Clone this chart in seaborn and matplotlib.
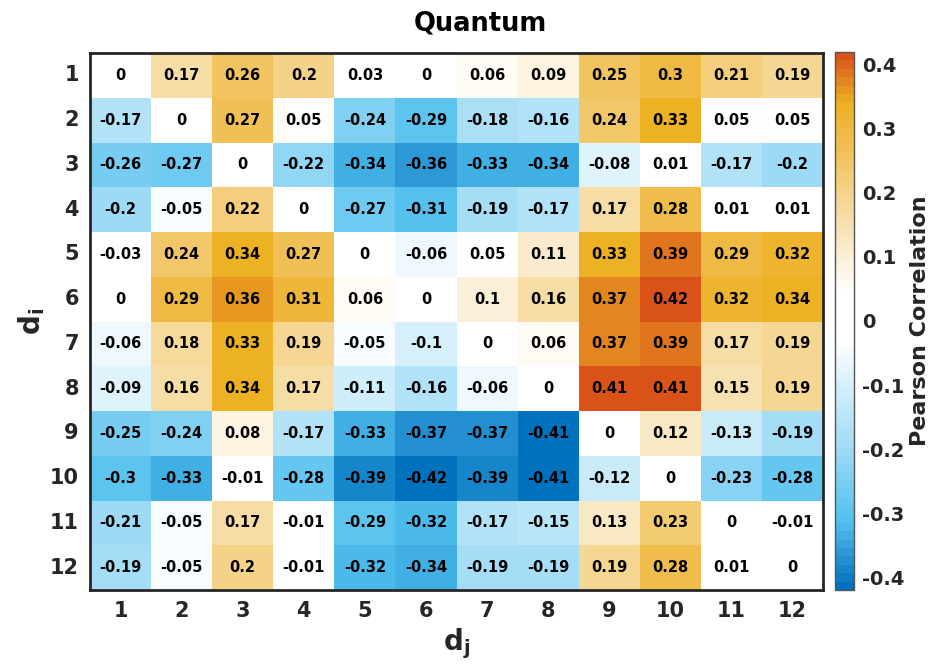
import numpy as np
import pandas as pd
import matplotlib
matplotlib.use("Agg")
import matplotlib.pyplot as plt
import seaborn as sns
from matplotlib.colors import LinearSegmentedColormap, ListedColormap

labels = [str(i) for i in range(1, 13)]

row_1 = [0, 0.17, 0.26, 0.2, 0.03, 0, 0.06, 0.09, 0.25, 0.3, 0.21, 0.19]
row_2 = [-0.17, 0, 0.27, 0.05, -0.24, -0.29, -0.18, -0.16, 0.24, 0.33, 0.05, 0.05]
row_3 = [-0.26, -0.27, 0, -0.22, -0.34, -0.36, -0.33, -0.34, -0.08, 0.01, -0.17, -0.2]
row_4 = [-0.2, -0.05, 0.22, 0, -0.27, -0.31, -0.19, -0.17, 0.17, 0.28, 0.01, 0.01]
row_5 = [-0.03, 0.24, 0.34, 0.27, 0, -0.06, 0.05, 0.11, 0.33, 0.39, 0.29, 0.32]
row_6 = [0, 0.29, 0.36, 0.31, 0.06, 0, 0.1, 0.16, 0.37, 0.42, 0.32, 0.34]
row_7 = [-0.06, 0.18, 0.33, 0.19, -0.05, -0.1, 0, 0.06, 0.37, 0.39, 0.17, 0.19]
row_8 = [-0.09, 0.16, 0.34, 0.17, -0.11, -0.16, -0.06, 0, 0.41, 0.41, 0.15, 0.19]
row_9 = [-0.25, -0.24, 0.08, -0.17, -0.33, -0.37, -0.37, -0.41, 0, 0.12, -0.13, -0.19]
row_10 = [-0.3, -0.33, -0.01, -0.28, -0.39, -0.42, -0.39, -0.41, -0.12, 0, -0.23, -0.28]
row_11 = [-0.21, -0.05, 0.17, -0.01, -0.29, -0.32, -0.17, -0.15, 0.13, 0.23, 0, -0.01]
row_12 = [-0.19, -0.05, 0.2, -0.01, -0.32, -0.34, -0.19, -0.19, 0.19, 0.28, 0.01, 0]

rows = [row_1, row_2, row_3, row_4, row_5, row_6, row_7, row_8, row_9, row_10, row_11, row_12]
df = pd.DataFrame(rows, index=labels, columns=labels)

cbar_ticks = [-0.4, -0.3, -0.2, -0.1, 0, 0.1, 0.2, 0.3, 0.4]
cbar_ticklabels = ["-0.4", "-0.3", "-0.2", "-0.1", "0", "0.1", "0.2", "0.3", "0.4"]

vmin, vmax = -0.42, 0.42
nodes = [
    (-0.42, "#0072BD"),
    (-0.37, "#2A97D5"),
    (-0.32, "#50C0EE"),
    (-0.2, "#A0DBF5"),
    (-0.1, "#D6F0FB"),
    (-0.035, "#FFFFFF"),
    (0.045, "#FFFFFF"),
    (0.1, "#FBEFD8"),
    (0.2, "#F4D48C"),
    (0.3, "#EFBA45"),
    (0.345, "#EDB120"),
    (0.38, "#E4871F"),
    (0.42, "#D95319"),
]
base = LinearSegmentedColormap.from_list(
    "q", [((v - vmin) / (vmax - vmin), c) for v, c in nodes])
cmap = ListedColormap(base(np.linspace(0, 1, 64)))

sns.set_style("white")
plt.rcParams["font.family"] = ["DejaVu Sans"]
plt.rcParams["font.weight"] = "bold"

dark = "#262626"
fig = plt.figure(figsize=(9.31, 6.64), dpi=100)
ax = fig.add_axes([90 / 931, 1 - 590 / 664, (823 - 90) / 931, (590 - 53) / 664])
cax = fig.add_axes([835 / 931, 1 - 590 / 664, 19 / 931, (590 - 52) / 664])

sns.heatmap(df, ax=ax, cbar_ax=cax, cmap=cmap, vmin=vmin, vmax=vmax,
            annot=True, fmt="g", linewidths=0,
            annot_kws={"color": "black", "fontsize": 10.5, "fontweight": "bold"},
            cbar_kws={"ticks": cbar_ticks})

fig.text(480 / 931, 1 - 23 / 664, "Quantum", fontsize=18.5, fontweight="bold",
         color="black", ha="center", va="center")
ax.set_xlabel(r"$\mathbf{d}_\mathbf{j}$", fontsize=20, color=dark, labelpad=4)
ax.set_ylabel(r"$\mathbf{d}_\mathbf{i}$", fontsize=20, color=dark, labelpad=2)

ax.tick_params(axis="both", which="both", direction="in", length=5, width=1.3,
               colors=dark, labelsize=15, top=True, right=True,
               labeltop=False, labelright=False, pad=8)
ax.set_xticklabels(labels, rotation=0, fontweight="bold")
ax.set_yticklabels(labels, rotation=0, fontweight="bold")
for s in ax.spines.values():
    s.set_visible(True)
    s.set_linewidth(2)
    s.set_color(dark)

cbar = ax.collections[0].colorbar
cbar.ax.tick_params(direction="in", length=5, width=1, colors=dark, labelsize=14, pad=6)
cbar.ax.set_yticklabels(cbar_ticklabels, fontweight="bold")
cbar.set_label("Pearson Correlation", fontsize=16, fontweight="bold", color=dark)
cbar.ax.yaxis.set_label_coords((910 - 835) / 19, 0.5)
cbar.outline.set_visible(True)
cbar.outline.set_linewidth(1)
cbar.outline.set_edgecolor("#555555")

fig.savefig("out.png", dpi=100)
